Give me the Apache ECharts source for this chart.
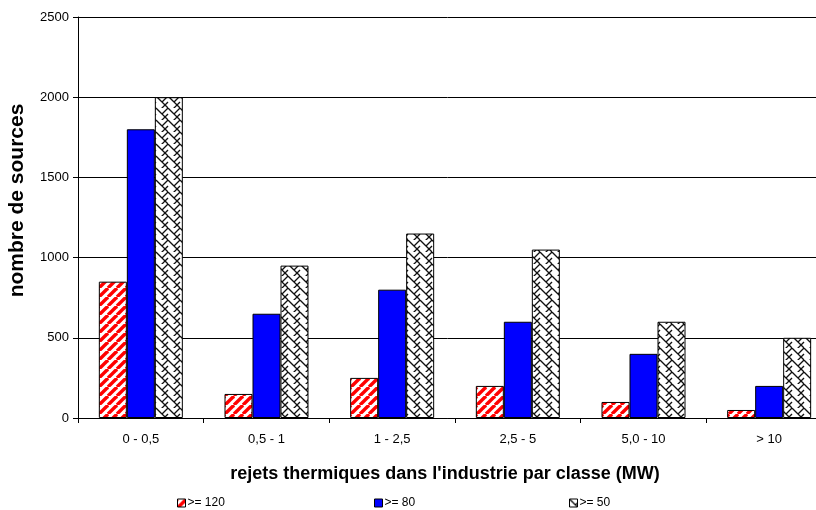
<!DOCTYPE html>
<html>
<head>
<meta charset="utf-8">
<script src="https://cdn.jsdelivr.net/npm/echarts@6/dist/echarts.min.js"></script>
<style>
  html, body { margin: 0; padding: 0; background: #fff; }
  #chart { width: 816px; height: 510px; }
</style>
</head>
<body>
<div id="chart"></div>
<script>
// classes de rejets thermiques (MW)
var classes = ['0 - 0,5', '0,5 - 1', '1 - 2,5', '2,5 - 5', '5,0 - 10', '> 10'];
var seriesNames = ['>= 120', '>= 80', '>= 50'];
var val120 = [850, 150, 250, 200, 100, 50];
var val80 = [1800, 650, 800, 600, 400, 200];
var val50 = [2000, 950, 1150, 1050, 600, 500];

// hachures rouges
function stripePattern() {
  var c = document.createElement('canvas');
  c.width = 9; c.height = 9;
  var ctx = c.getContext('2d');
  ctx.fillStyle = '#fff';
  ctx.fillRect(0, 0, 9, 9);
  ctx.strokeStyle = '#ff0000';
  ctx.lineWidth = 3.4;
  for (var x0 = -9; x0 <= 9; x0 += 9) {
    ctx.beginPath();
    ctx.moveTo(x0, 9);
    ctx.lineTo(x0 + 9, 0);
    ctx.stroke();
  }
  return c;
}

// treillis noir et blanc
function weavePattern() {
  var c = document.createElement('canvas');
  c.width = 12; c.height = 12;
  var ctx = c.getContext('2d');
  ctx.fillStyle = '#fff';
  ctx.fillRect(0, 0, 12, 12);
  ctx.strokeStyle = '#111';
  ctx.lineWidth = 1.3;
  // lignes "\" continues
  for (var k = -12; k <= 12; k += 12) {
    ctx.beginPath();
    ctx.moveTo(0, k);
    ctx.lineTo(12, k + 12);
    ctx.stroke();
  }
  // segments "/" decales
  ctx.beginPath();
  ctx.moveTo(12, 0); ctx.lineTo(6, 6);
  ctx.moveTo(6, 12); ctx.lineTo(0, 18);
  ctx.moveTo(0, 6); ctx.lineTo(-6, 12);
  ctx.moveTo(12, 6); ctx.lineTo(6, 12);
  ctx.stroke();
  return c;
}

var fillRed = { image: stripePattern(), repeat: 'repeat' };
var fillBlue = '#0000ff';
var fillWeave = { image: weavePattern(), repeat: 'repeat' };

var myChart = echarts.init(document.getElementById('chart'), null, { renderer: 'canvas' });

var fontFam = 'Liberation Sans, Arial, sans-serif';

function legendAt(left, name) {
  return {
    left: left,
    top: 497,
    data: [name],
    itemWidth: 8,
    itemHeight: 8,
    itemGap: 2,
    padding: 0,
    icon: 'rect',
    itemStyle: { borderColor: '#000', borderWidth: 1 },
    textStyle: { fontFamily: fontFam, color: '#000', fontSize: 12, padding: [0, 0, 0, -3] }
  };
}

function barSeries(name, data, color) {
  return {
    name: name,
    type: 'bar',
    data: data,
    barWidth: 28,
    barGap: '0%',
    itemStyle: { color: color, borderColor: '#000', borderWidth: 1 },
    emphasis: { disabled: true }
  };
}

// le cadre du graphique depasse a droite de l'image (coupe)
myChart.setOption({
  animation: false,
  backgroundColor: '#fff',
  textStyle: { fontFamily: fontFam, color: '#000' },
  grid: { left: 78, right: -16, top: 17, bottom: 92, containLabel: false, outerBoundsMode: 'none' },
  legend: [
    legendAt(177, seriesNames[0]),
    legendAt(374, seriesNames[1]),
    legendAt(569, seriesNames[2])
  ],
  xAxis: {
    type: 'category',
    data: classes,
    name: "rejets thermiques dans l'industrie par classe (MW)",
    nameLocation: 'middle',
    nameGap: 47,
    nameTextStyle: { fontFamily: fontFam, fontSize: 18, fontWeight: 'bold', color: '#000', padding: [0, 20, 0, 0] },
    axisLine: { lineStyle: { color: '#000', width: 1 } },
    axisTick: { show: true, length: 5, lineStyle: { color: '#000' } },
    axisLabel: { margin: 15, fontSize: 13, color: '#000', fontFamily: fontFam }
  },
  yAxis: {
    type: 'value',
    min: 0,
    max: 2500,
    interval: 500,
    name: 'nombre de sources',
    nameLocation: 'middle',
    nameRotate: 90,
    nameGap: 50,
    nameTextStyle: { fontFamily: fontFam, fontSize: 21, fontWeight: 'bold', color: '#000', padding: [0, 0, 0, 34] },
    axisLine: { show: true, lineStyle: { color: '#000', width: 1 } },
    axisTick: { show: true, length: 5, lineStyle: { color: '#000' } },
    axisLabel: {
      margin: 9, fontSize: 13, color: '#000', fontFamily: fontFam,
      formatter: function (v) { return String(v); }
    },
    splitLine: { show: true, lineStyle: { color: '#000', width: 1 } }
  },
  series: [
    barSeries(seriesNames[0], val120, fillRed),
    barSeries(seriesNames[1], val80, fillBlue),
    barSeries(seriesNames[2], val50, fillWeave)
  ]
});
</script>
</body>
</html>
